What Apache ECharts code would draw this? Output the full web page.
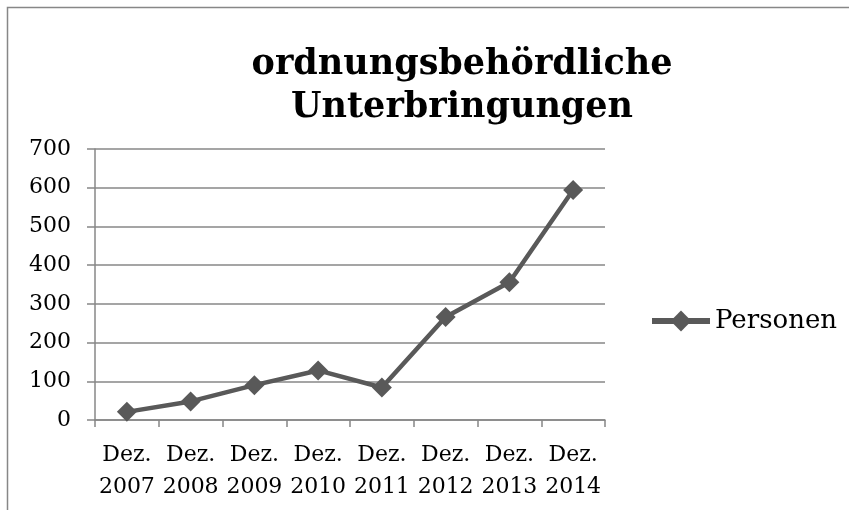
<!DOCTYPE html>
<html>
<head>
<meta charset="utf-8">
<script src="https://cdn.jsdelivr.net/npm/echarts@6/dist/echarts.min.js"></script>
<style>
  html, body { margin: 0; padding: 0; background: #fff; }
  #chart { width: 849px; height: 510px; }
</style>
</head>
<body>
<div id="chart"></div>
<script>
const categories = ['Dez.\n2007', 'Dez.\n2008', 'Dez.\n2009', 'Dez.\n2010', 'Dez.\n2011', 'Dez.\n2012', 'Dez.\n2013', 'Dez.\n2014'];
const personen = [21, 48, 90, 128, 84, 266, 356, 594];
const yTicks = [0, 700, 100]; // min, max, interval

const chart = echarts.init(document.getElementById('chart'), null, { renderer: 'canvas' });
const serif = '"DejaVu Serif", "Liberation Serif", serif';
const gray = '#878787';
const lineColor = '#595959';

chart.setOption({
  animation: false,
  title: {
    text: 'ordnungsbehördliche\nUnterbringungen',
    left: 457,
    top: 38,
    textAlign: 'center',
    textStyle: { fontFamily: serif, fontWeight: 'bold', fontSize: 35, lineHeight: 43, color: '#000' },
  },
  graphic: [
    {
      type: 'rect',
      shape: { x: 7.5, y: 7.5, width: 845, height: 600 },
      style: { fill: 'none', stroke: gray, lineWidth: 1.5 },
      silent: true,
    },
  ],
  legend: {
    left: 644,
    top: 303,
    orient: 'vertical',
    itemWidth: 58,
    itemHeight: 26,
    itemGap: 2,
    lineStyle: { width: 6 },
    textStyle: { fontFamily: serif, fontSize: 26, color: '#000' },
    data: ['Personen'],
  },
  grid: { left: 95, right: 244, top: 149, bottom: 90 },
  xAxis: {
    type: 'category',
    data: categories,
    boundaryGap: true,
    axisLine: { lineStyle: { color: gray, width: 1.5 } },
    axisTick: { show: true, length: 7, lineStyle: { color: gray, width: 1.5 } },
    axisLabel: { fontFamily: serif, fontSize: 22, color: '#000', lineHeight: 32, margin: 19, interval: 0 },
  },
  yAxis: {
    type: 'value',
    min: yTicks[0],
    max: yTicks[1],
    interval: yTicks[2],
    axisLine: { show: true, lineStyle: { color: gray, width: 1.5 } },
    axisTick: { show: true, length: 8, lineStyle: { color: gray, width: 1.5 } },
    splitLine: { lineStyle: { color: gray, width: 1.5 } },
    axisLabel: { fontFamily: serif, fontSize: 22, color: '#000', margin: 24 },
  },
  series: [
    {
      name: 'Personen',
      type: 'line',
      data: personen,
      symbol: 'diamond',
      symbolSize: 20,
      lineStyle: { color: lineColor, width: 4.5 },
      itemStyle: { color: lineColor },
    },
  ],
});
</script>
</body>
</html>
